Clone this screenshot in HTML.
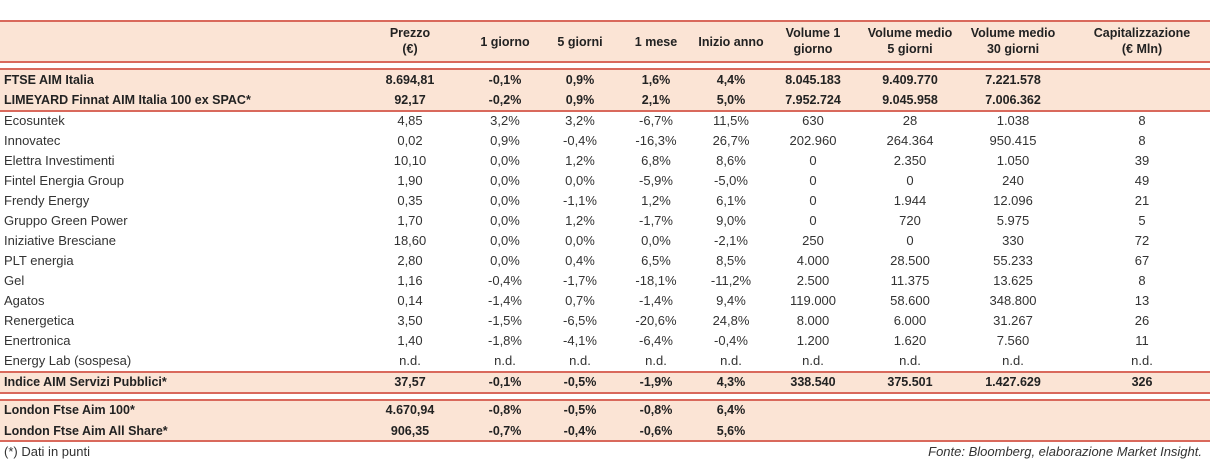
<!DOCTYPE html>
<html><head><meta charset="utf-8"><style>
body{margin:0;width:1210px;height:463px;background:#fff;position:relative;overflow:hidden;font-family:"Liberation Sans",sans-serif;color:#222}
.band{position:absolute;left:0;width:1210px;background:#fbe4d5}
.line{position:absolute;left:0;width:1210px;height:2px;background:#d9695c}
.row{position:absolute;left:0;width:1210px;height:20px;font-size:13px;line-height:20px;color:#333}
.row.b{font-weight:bold;font-size:12.5px;color:#222}
.c{position:absolute;text-align:center;width:100px}
.n{position:absolute;left:4px}
.h{position:absolute;text-align:center;font-weight:bold;font-size:12.5px;line-height:16px;width:130px;top:25px}
</style></head><body>
<div class="band" style="top:21px;height:41px"></div>
<div class="band" style="top:69px;height:42px"></div>
<div class="band" style="top:372px;height:21px"></div>
<div class="band" style="top:400px;height:41px"></div>
<div class="line" style="top:20px"></div>
<div class="line" style="top:61px"></div>
<div class="line" style="top:68px"></div>
<div class="line" style="top:110px"></div>
<div class="line" style="top:371px"></div>
<div class="line" style="top:392px"></div>
<div class="line" style="top:399px"></div>
<div class="line" style="top:440px"></div>
<div id="hdr"></div><div id="rows"></div>
<div style="position:absolute;left:4px;top:444px;font-size:13px;color:#333">(*) Dati in punti</div>
<div style="position:absolute;right:8px;top:444px;font-size:13px;font-style:italic;color:#333">Fonte: Bloomberg, elaborazione Market Insight.</div>
<script>
const centers=[410,505,580,656,731,813,910,1013,1142];
const headers=[["Prezzo","(€)"],["1 giorno"],["5 giorni"],["1 mese"],["Inizio anno"],["Volume 1","giorno"],["Volume medio","5 giorni"],["Volume medio","30 giorni"],["Capitalizzazione","(€ Mln)"]];
const rows=[
["FTSE AIM Italia",1,70,"8.694,81","-0,1%","0,9%","1,6%","4,4%","8.045.183","9.409.770","7.221.578",""],
["LIMEYARD Finnat AIM Italia 100 ex SPAC*",1,90,"92,17","-0,2%","0,9%","2,1%","5,0%","7.952.724","9.045.958","7.006.362",""],
["Ecosuntek",0,111,"4,85","3,2%","3,2%","-6,7%","11,5%","630","28","1.038","8"],
["Innovatec",0,131,"0,02","0,9%","-0,4%","-16,3%","26,7%","202.960","264.364","950.415","8"],
["Elettra Investimenti",0,151,"10,10","0,0%","1,2%","6,8%","8,6%","0","2.350","1.050","39"],
["Fintel Energia Group",0,171,"1,90","0,0%","0,0%","-5,9%","-5,0%","0","0","240","49"],
["Frendy Energy",0,191,"0,35","0,0%","-1,1%","1,2%","6,1%","0","1.944","12.096","21"],
["Gruppo Green Power",0,211,"1,70","0,0%","1,2%","-1,7%","9,0%","0","720","5.975","5"],
["Iniziative Bresciane",0,231,"18,60","0,0%","0,0%","0,0%","-2,1%","250","0","330","72"],
["PLT energia",0,251,"2,80","0,0%","0,4%","6,5%","8,5%","4.000","28.500","55.233","67"],
["Gel",0,271,"1,16","-0,4%","-1,7%","-18,1%","-11,2%","2.500","11.375","13.625","8"],
["Agatos",0,291,"0,14","-1,4%","0,7%","-1,4%","9,4%","119.000","58.600","348.800","13"],
["Renergetica",0,311,"3,50","-1,5%","-6,5%","-20,6%","24,8%","8.000","6.000","31.267","26"],
["Enertronica",0,331,"1,40","-1,8%","-4,1%","-6,4%","-0,4%","1.200","1.620","7.560","11"],
["Energy Lab (sospesa)",0,351,"n.d.","n.d.","n.d.","n.d.","n.d.","n.d.","n.d.","n.d.","n.d."],
["Indice AIM Servizi Pubblici*",1,372,"37,57","-0,1%","-0,5%","-1,9%","4,3%","338.540","375.501","1.427.629","326"],
["London Ftse Aim 100*",1,400,"4.670,94","-0,8%","-0,5%","-0,8%","6,4%","","","",""],
["London Ftse Aim All Share*",1,421,"906,35","-0,7%","-0,4%","-0,6%","5,6%","","","",""]];
const H=document.getElementById('hdr');
headers.forEach((h,i)=>{const d=document.createElement('div');d.className='h';


d.style.left=(centers[i]-65)+'px';if(h.length==1)d.style.top='34px';d.innerHTML=h.join('<br>');H.appendChild(d);});
const R=document.getElementById('rows');
rows.forEach(r=>{const d=document.createElement('div');d.className='row'+(r[1]?' b':'');d.style.top=r[2]+'px';


let s='<span class="n">'+r[0]+'</span>';
for(let i=0;i<9;i++)s+='<span class="c" style="left:'+(centers[i]-50)+'px">'+r[3+i]+'</span>';
d.innerHTML=s;R.appendChild(d);});
</script>
</body></html>
